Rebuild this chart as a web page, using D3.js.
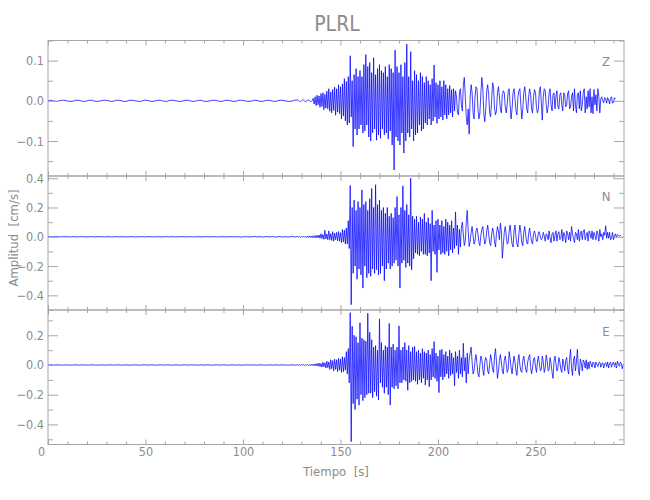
<!DOCTYPE html>
<html><head><meta charset="utf-8">
<script src="https://cdn.jsdelivr.net/npm/d3@7/dist/d3.min.js"></script>
<style>
body{margin:0;background:#fff}
svg{display:block}
text{font-family:"Liberation Sans Narrow","DejaVu Sans Condensed",sans-serif;fill:#8c8c8c;white-space:pre}
</style>
</head><body>
<svg id="chart" width="650" height="500"></svg>
<script>
// ---------------- data ----------------
const title = "PLRL";
const xLabel = "Tiempo  [s]";
const yLabel = "Amplitud  [cm/s]";
const components = ["Z", "N", "E"];
const xMax = 295.4;
const xMajorTicks = [0, 50, 100, 150, 200, 250];
const xMinorTicks = [10,20,30,40,60,70,80,90,110,120,130,140,160,170,180,190,210,220,230,240,260,270,280,290];
const yDomainZ = [-0.187, 0.150];
const yDomainN = [-0.500, 0.415];
const yDomainE = [-0.535, 0.370];
const yMajorZ = [0.1, 0.0, -0.1];
const yMinorZ = [0.15, 0.05, -0.05, -0.15];
const yMajorN = [0.4, 0.2, 0.0, -0.2, -0.4];
const yMinorN = [0.3, 0.1, -0.1, -0.3, -0.5];
const yMajorE = [0.2, 0.0, -0.2, -0.4];
const yMinorE = [0.3, 0.1, -0.1, -0.3, -0.5];
const labelLevels = [0.1, 0.28, 0.23];   // value level beside which Z, N, E are written

// quiet part sampled every 1.6 s from t = 0, active part every 0.5 s from t = 128 s
const quietStep = 1.6;
const activeStart = 128;
const activeStep = 0.5;

const quietZ = [
0.000,0.0015,-0.001,-0.0015,0.001,0.0015,0.000,-0.0015,-0.001,0.0015,
0.001,-0.001,-0.0015,0.001,0.0015,-0.001,-0.0015,0.000,0.0015,0.001,
-0.0015,-0.001,0.0015,0.001,-0.001,-0.0015,0.001,0.0015,0.000,-0.0015,
-0.001,0.0015,0.001,-0.0015,-0.001,0.001,0.0015,-0.001,-0.0015,0.001,
0.0015,0.000,-0.0015,-0.001,0.0015,0.001,-0.001,-0.0015,0.001,0.0015,
-0.001,-0.0015,0.000,0.0015,0.001,-0.0015,-0.001,0.0015,0.001,-0.001,
-0.0015,0.001,0.0015,0.000,-0.0015,-0.001,0.0015,0.001,-0.0015,-0.001,
0.001,0.0015,-0.001,-0.0015,0.001,0.0015,0.000,-0.0015,-0.001,0.0015];

const activeZ = [
0.002,0.001,-0.001,-0.002,0.000,0.002,0.002,0.000,-0.002,-0.001,
0.001,0.002,0.001,-0.001,-0.002,0.000,0.006,-0.008,0.010,-0.012,
0.014,-0.010,0.012,-0.016,0.018,-0.014,0.020,-0.022,0.016,-0.018,
0.024,-0.020,0.030,-0.026,0.022,-0.030,0.028,-0.024,0.034,-0.036,
0.030,-0.028,0.040,-0.032,0.035,-0.045,0.042,-0.038,0.055,-0.050,
0.048,-0.060,0.060,-0.055,0.112,-0.040,0.050,-0.114,0.065,-0.070,
0.080,-0.085,0.060,-0.070,0.075,-0.060,0.060,-0.080,0.090,-0.075,
0.115,-0.060,0.085,-0.090,0.095,-0.100,0.070,-0.080,0.107,-0.070,
0.065,-0.098,0.080,-0.085,0.090,-0.093,0.075,-0.070,0.070,-0.085,
0.085,-0.080,0.060,-0.095,0.090,-0.075,0.080,-0.110,0.070,-0.172,
0.126,-0.090,0.085,-0.100,0.070,-0.110,0.090,-0.080,0.060,-0.130,
0.095,-0.100,0.141,-0.080,0.060,-0.090,0.122,-0.070,0.050,-0.100,
0.075,-0.085,0.065,-0.080,0.050,-0.060,0.070,-0.075,0.060,-0.070,
0.045,-0.055,0.060,-0.060,0.050,-0.045,0.040,-0.060,0.055,-0.050,
0.089,-0.040,0.045,-0.056,0.040,-0.045,0.050,-0.040,0.035,-0.048,
0.050,-0.035,0.040,-0.045,0.030,-0.035,0.038,-0.030,0.028,-0.040,
0.030,-0.025,0.025,0.010,-0.030,-0.035,0.020,0.030,-0.010,-0.025,
0.040,0.058,0.010,-0.040,-0.060,-0.020,-0.083,0.010,0.040,0.020,
-0.030,-0.045,0.010,0.035,0.030,-0.020,-0.045,-0.030,0.020,0.058,
0.030,-0.030,-0.052,-0.020,0.025,0.040,0.015,-0.030,-0.040,0.000,
0.045,0.034,-0.020,-0.035,-0.025,0.020,0.035,0.010,-0.020,-0.030,
0.015,0.025,0.020,-0.015,-0.030,-0.010,0.025,0.030,-0.010,-0.045,
-0.020,0.020,0.030,0.005,-0.025,-0.035,0.010,0.025,0.030,-0.010,
-0.045,-0.020,0.020,0.035,0.010,-0.020,-0.030,0.010,0.030,0.015,
-0.020,-0.030,0.010,0.028,0.020,-0.015,-0.030,-0.020,0.025,0.035,
-0.005,-0.048,0.010,0.030,0.025,-0.010,-0.030,-0.015,0.020,0.030,
-0.010,-0.025,0.015,0.020,-0.020,0.010,0.025,-0.015,-0.020,0.015,
0.020,-0.010,-0.025,0.020,0.015,-0.015,-0.010,0.018,0.025,-0.020,
-0.015,0.010,0.020,-0.025,0.030,-0.010,-0.030,0.015,0.020,-0.020,
0.025,-0.025,-0.010,0.020,0.030,-0.030,0.010,-0.020,0.025,-0.015,
0.030,-0.030,0.010,-0.032,0.028,-0.010,0.015,-0.025,0.030,0.010,
-0.030,0.005,0.010,0.000,-0.005,0.008,0.004,-0.006,0.008,0.002,
-0.008,0.006,0.010,-0.006,-0.004,0.008,0.004];

const quietN = [
0.001,-0.001,0.000,0.001,-0.001,0.001,0.000,-0.001,0.001,-0.001,
0.000,0.001,-0.001,0.000,0.001,-0.001,0.001,0.000,-0.001,0.001,
-0.001,0.000,0.001,-0.001,0.001,-0.001,0.000,0.001,-0.001,0.000,
0.001,-0.001,0.001,0.000,-0.001,0.001,-0.001,0.000,0.001,-0.001,
0.001,-0.001,0.000,0.001,-0.001,0.001,0.000,-0.001,0.001,-0.001,
0.000,0.001,-0.001,0.001,0.000,-0.001,0.001,-0.001,0.000,0.001,
-0.001,0.001,-0.002,0.001,0.000,-0.001,0.002,-0.001,0.001,-0.002,
0.002,-0.001,0.001,-0.002,0.002,-0.002,0.001,-0.002,0.002,-0.001];

const activeN = [
0.002,-0.002,0.003,-0.003,0.002,-0.004,0.004,-0.003,0.003,-0.005,
0.005,-0.004,0.006,-0.005,0.005,-0.007,0.007,-0.006,0.008,-0.008,
0.010,-0.007,0.012,-0.010,0.020,-0.012,0.015,-0.018,0.045,-0.015,
0.018,-0.020,0.040,-0.020,0.022,-0.025,0.035,-0.030,0.025,-0.020,
0.030,-0.028,0.036,-0.030,0.028,-0.040,0.050,-0.035,0.045,-0.050,
0.060,-0.048,0.110,-0.080,0.350,-0.464,0.200,-0.250,0.250,-0.200,
0.180,-0.290,0.240,-0.220,0.200,-0.260,0.320,-0.350,0.220,-0.200,
0.240,-0.280,0.180,-0.250,0.260,-0.270,0.330,-0.220,0.200,-0.250,
0.355,-0.225,0.220,-0.260,0.250,-0.250,0.180,-0.200,0.200,-0.300,
0.160,-0.220,0.200,-0.180,0.140,-0.220,0.160,-0.200,0.130,-0.180,
0.200,-0.160,0.275,-0.200,0.150,-0.350,0.200,-0.180,0.348,-0.160,
0.180,-0.210,0.220,-0.180,0.150,-0.200,0.400,-0.225,0.140,-0.150,
0.120,-0.110,0.140,-0.120,0.100,-0.130,0.135,-0.100,0.120,-0.120,
0.160,-0.120,0.100,-0.130,0.130,-0.110,0.090,-0.300,0.180,-0.100,
0.080,-0.120,0.110,-0.243,0.120,-0.090,0.080,-0.120,0.110,-0.110,
0.070,-0.120,0.120,-0.100,0.100,-0.130,0.080,-0.090,0.110,-0.110,
0.060,-0.080,0.170,-0.060,0.080,-0.120,0.050,-0.070,0.060,0.100,
0.020,-0.060,-0.030,0.100,0.180,0.040,-0.066,-0.030,0.030,0.070,
0.010,-0.050,-0.030,0.040,0.060,0.020,-0.040,-0.060,0.010,0.050,
0.070,0.000,-0.050,-0.030,0.040,0.080,0.020,-0.040,-0.060,0.010,
0.060,0.030,-0.030,-0.070,0.020,0.070,0.040,-0.020,0.093,0.040,
-0.146,-0.060,0.030,0.070,0.010,-0.050,-0.040,0.040,0.080,0.010,
-0.050,-0.070,0.040,0.080,0.000,-0.050,-0.070,0.020,0.080,0.030,
-0.040,-0.060,0.030,0.070,0.010,-0.040,-0.050,0.020,0.060,0.010,
-0.030,-0.050,0.020,0.040,0.010,-0.030,-0.030,0.030,0.035,0.000,
-0.020,-0.010,0.030,0.005,-0.030,0.020,0.010,-0.020,0.040,-0.010,
-0.040,0.020,0.030,-0.030,0.010,0.040,-0.030,0.020,0.035,-0.020,
-0.010,0.050,-0.030,0.030,0.010,-0.040,0.040,0.020,-0.020,0.030,
-0.030,0.070,0.020,-0.010,-0.040,0.030,0.020,-0.020,0.050,-0.030,
0.020,0.040,-0.020,0.030,0.050,-0.020,0.010,0.030,-0.030,0.040,
0.020,-0.010,0.040,-0.020,0.030,0.010,-0.020,0.040,0.020,-0.030,
0.050,0.000,0.020,-0.020,0.030,0.010,0.075,-0.010,0.030,-0.010,
0.030,-0.020,-0.010,0.030,-0.020,0.010,0.020,-0.005,0.015,0.010,
0.003,0.010,0.005];

const quietE = [
0.000,0.001,-0.001,0.001,0.000,-0.001,0.001,-0.001,0.000,0.001,
-0.001,0.001,0.000,-0.001,0.001,0.000,-0.001,0.001,-0.001,0.000,
0.001,-0.001,0.001,0.000,-0.001,0.001,-0.001,0.000,0.001,-0.001,
0.000,0.001,-0.001,0.001,0.000,-0.001,0.001,-0.001,0.001,0.000,
-0.001,0.001,-0.001,0.000,0.001,-0.001,0.001,0.000,-0.001,0.001,
-0.001,0.001,0.000,-0.001,0.001,-0.001,0.001,0.000,-0.001,0.001,
-0.001,0.001,-0.001,0.000,0.001,-0.001,0.001,-0.001,0.001,0.000,
-0.001,0.001,-0.001,0.001,-0.001,0.001,0.000,-0.001,0.001,-0.001];

const activeE = [
0.001,-0.001,0.002,-0.002,0.002,-0.001,0.003,-0.003,0.002,-0.003,
0.004,-0.003,0.003,-0.004,0.005,-0.004,0.006,-0.005,0.008,-0.006,
0.010,-0.008,0.012,-0.010,0.010,-0.014,0.018,-0.012,0.015,-0.020,
0.025,-0.018,0.020,-0.030,0.035,-0.025,0.030,-0.040,0.040,-0.030,
0.035,-0.045,0.045,-0.035,0.040,-0.050,0.055,-0.045,0.050,-0.035,
0.090,-0.060,0.110,-0.120,0.352,-0.516,0.260,-0.260,0.200,-0.300,
0.190,-0.230,0.150,-0.270,0.285,-0.200,0.180,-0.240,0.170,-0.220,
0.160,-0.200,0.348,-0.190,0.220,-0.190,0.170,-0.220,0.120,-0.180,
0.130,-0.210,0.100,-0.235,0.310,-0.120,0.150,-0.150,0.100,-0.190,
0.130,-0.150,0.120,-0.200,0.280,-0.270,0.120,-0.150,0.140,-0.160,
0.100,-0.140,0.120,-0.160,0.263,-0.120,0.100,-0.120,0.120,-0.100,
0.150,-0.110,0.100,-0.170,0.130,-0.120,0.090,-0.110,0.120,-0.100,
0.125,-0.110,0.090,-0.130,0.100,-0.100,0.080,-0.120,0.110,-0.090,
0.090,-0.135,0.080,-0.100,0.100,-0.146,0.070,-0.100,0.110,-0.080,
0.157,-0.090,0.080,-0.110,0.060,-0.186,0.100,-0.080,0.105,-0.100,
0.070,-0.080,0.090,-0.060,0.060,-0.090,0.100,-0.070,0.080,-0.060,
0.050,-0.140,0.090,-0.050,0.060,-0.090,0.100,-0.060,0.050,-0.080,
0.146,-0.040,0.050,-0.120,0.080,-0.060,0.040,0.080,0.120,0.020,
-0.060,-0.040,0.030,0.070,0.010,-0.060,-0.080,0.000,0.060,0.040,
-0.030,-0.070,0.020,0.050,0.030,-0.040,-0.060,0.010,0.070,0.030,
-0.030,-0.050,0.060,0.110,0.020,-0.090,-0.040,0.030,0.070,0.020,
-0.040,-0.060,0.030,0.060,0.010,-0.050,-0.030,0.090,0.040,-0.020,
-0.060,0.010,0.060,0.020,-0.040,-0.070,0.030,0.070,0.000,-0.040,
-0.050,0.030,0.060,0.010,-0.030,-0.050,0.020,0.050,0.070,-0.010,
-0.060,-0.020,0.040,0.050,-0.010,-0.050,0.020,0.060,0.010,-0.040,
-0.030,0.060,0.020,-0.050,-0.020,0.067,0.030,-0.040,-0.030,0.050,
0.010,-0.050,-0.090,0.020,0.060,0.010,-0.040,-0.020,0.050,0.020,
-0.030,-0.050,0.040,0.010,-0.040,0.030,0.050,-0.030,-0.060,0.040,
0.105,-0.020,-0.070,0.030,0.060,-0.040,0.020,0.105,-0.030,-0.070,
0.040,0.010,-0.040,0.034,0.020,-0.020,0.035,-0.030,0.020,-0.025,
0.025,0.010,-0.015,0.020,0.010,-0.020,0.020,0.005,-0.010,0.015,
0.020,-0.015,0.010,0.015,-0.020,0.010,0.015,-0.010,0.020,-0.020,
0.010,0.020,-0.015,0.010,0.020,-0.010,0.015,-0.020,0.025,0.005,
-0.010,0.020,0.010,-0.025,0.005];

// ---------------- drawing ----------------
function buildSeries(quiet, active) {
  return quiet.map((v, i) => ({t: i * quietStep, v}))
    .concat(active.map((v, i) => ({t: activeStart + i * activeStep, v})));
}

const panels = [
  {name: components[0], data: buildSeries(quietZ, activeZ), domain: yDomainZ, major: yMajorZ, minor: yMinorZ, lab: labelLevels[0]},
  {name: components[1], data: buildSeries(quietN, activeN), domain: yDomainN, major: yMajorN, minor: yMinorN, lab: labelLevels[1]},
  {name: components[2], data: buildSeries(quietE, activeE), domain: yDomainE, major: yMajorE, minor: yMinorE, lab: labelLevels[2]}
];

const svg = d3.select("#chart");
const left = 48, right = 624;
const panelEdges = [40.5, 176, 310, 444.5];
const lineColor = "#a6a6a6";
const textColor = "#8c8c8c";
const traceColor = "#0000ff";

const x = d3.scaleLinear().domain([0, xMax]).range([left, right]);
const fmt = d => (d < 0 ? "\u2212" : "") + Math.abs(d).toFixed(1);

svg.append("text").attr("x", (left + right) / 2 + 1).attr("y", 31)
  .attr("text-anchor", "middle").style("font-size", "21px").text(title);

panels.forEach((p, k) => {
  const top = panelEdges[k], bottom = panelEdges[k + 1];
  const y = d3.scaleLinear().domain(p.domain).range([bottom, top]);
  const g = svg.append("g");
  const minor = p.minor.filter(v => v >= p.domain[0] && v <= p.domain[1]);

  g.append("clipPath").attr("id", "clip" + k)
    .append("rect").attr("x", left).attr("y", top).attr("width", right - left).attr("height", bottom - top);

  const line = d3.line().x(d => x(d.t)).y(d => y(d.v));
  g.append("path").datum(p.data).attr("clip-path", `url(#clip${k})`)
    .attr("d", line).attr("fill", "none").attr("stroke", traceColor)
    .attr("stroke-width", 0.75);

  const styleAxis = sel => {
    sel.select(".domain").remove();
    sel.selectAll(".tick line").attr("stroke", lineColor);
    sel.selectAll(".tick text").attr("fill", textColor).style("font-size", "12.5px")
      .style("font-family", "'Liberation Sans Narrow','DejaVu Sans Condensed',sans-serif");
  };

  // y axes
  g.append("g").attr("transform", `translate(${left},0)`)
    .call(d3.axisLeft(y).tickValues(p.major).tickSize(-10).tickPadding(4).tickFormat(fmt)).call(styleAxis);
  g.append("g").attr("transform", `translate(${left},0)`)
    .call(d3.axisLeft(y).tickValues(minor).tickSize(-5).tickFormat("")).call(styleAxis);
  g.append("g").attr("transform", `translate(${right},0)`)
    .call(d3.axisRight(y).tickValues(p.major).tickSize(-10).tickFormat("")).call(styleAxis);
  g.append("g").attr("transform", `translate(${right},0)`)
    .call(d3.axisRight(y).tickValues(minor).tickSize(-5).tickFormat("")).call(styleAxis);

  // x axes
  g.append("g").attr("transform", `translate(0,${top})`)
    .call(d3.axisTop(x).tickValues(xMajorTicks).tickSize(-5).tickFormat("")).call(styleAxis);
  g.append("g").attr("transform", `translate(0,${top})`)
    .call(d3.axisTop(x).tickValues(xMinorTicks).tickSize(-3).tickFormat("")).call(styleAxis);
  const bx = g.append("g").attr("transform", `translate(0,${bottom})`)
    .call(d3.axisBottom(x).tickValues(xMajorTicks).tickSize(-5).tickPadding(3)
      .tickFormat(k === panels.length - 1 ? d3.format("d") : ""))
    .call(styleAxis);
  bx.selectAll(".tick text").filter(d => d === 0).attr("dx", -7);
  g.append("g").attr("transform", `translate(0,${bottom})`)
    .call(d3.axisBottom(x).tickValues(xMinorTicks).tickSize(-3).tickFormat("")).call(styleAxis);

  // frame
  g.append("rect").attr("x", left).attr("y", top).attr("width", right - left).attr("height", bottom - top)
    .attr("fill", "none").attr("stroke", lineColor).attr("stroke-width", 1);

  // component letter
  g.append("text").attr("x", right - 18).attr("y", y(p.lab) + 5)
    .attr("text-anchor", "middle").style("font-size", "13px").text(p.name);
});

svg.append("text").attr("x", (left + right) / 2).attr("y", 476)
  .attr("text-anchor", "middle").style("font-size", "13px").text(xLabel);
svg.append("text").attr("transform", "translate(18,238) rotate(-90)")
  .attr("text-anchor", "middle").style("font-size", "13px").text(yLabel);
</script>
</body></html>
